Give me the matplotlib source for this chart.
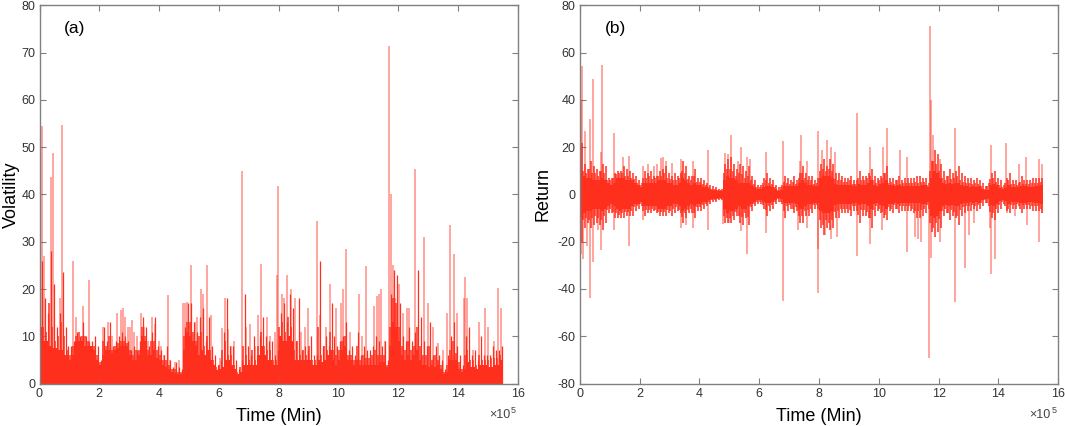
import numpy as np
import matplotlib
matplotlib.use("Agg")
import matplotlib.pyplot as plt

plt.rcParams['font.family'] = ['Liberation Sans', 'DejaVu Sans']
plt.rcParams['axes.unicode_minus'] = False

RED = '#ff2f1e'
GREY = '#808080'

# time grid, in units of 1e5 min
grid = np.arange(155) * 0.1

# (a) volatility: solid body, two jagged layers, and the thin pale spikes
vol_body = [12,9,9,8,7.5,7.5,7,7,6,6,
            5,6,9,9,9,8,8,8,7,5,
            4,6,7,7,6.5,7,7.5,8,8,8,
            6,5,5,6,10,9,6,6,7,5.5,
            5,4,3.5,3,2.5,2.2,2,2,7,11,
            10,9,8,6,7,6,7,5,4,2.8,
            3,3.5,5,5,4,3,2,2.5,4,4,
            4,4,4,6,8,6,5,5,4,4,
            10,9,9,10,9,5,5,5,5,5,
            5,4,4,5,4.5,5,6,7,5,4,
            5,7,8,5,5,4,5,4,4,4,
            4,4,4,4,4.5,4.5,3.5,8,13,12,
            9,6,5,6,5,6,7,5,4,4,
            3.5,4,3.5,4,3,2,2.5,5,5,5,
            3,2.5,3,4.5,3.5,3.5,3,4,4,4,
            3.5,3.5,4,4,5]
vol_mid = [20,12,11,17,12,9,10,13,10,7,
           6,8,10,11,10,10,9,8,8,6,
           4.5,9,8,10,7,8,8.5,9,9,8.5,
           7,6,7,7,12,10,7,9,9,7,
           6,5,5,4,3,3,2.5,2.5,10,13,
           13,11,9,10,11,8,10,7,5,3.5,
           4,7,9,6,6,4,2.5,3.5,8,6,
           5,7,5,8,11,8,7,7,5,5,
           12,13,11,14,12,7,9,6,7,6,
           8,5,5,12,6,8,7,11,7,6,
           7,9,10,6,6,5,8,5,6,5.5,
           5.5,6,7,6,6,6,4,12,18,17,
           12,8,7,9,7,8,12,8,6,6,
           8,5,6,5,4,2.5,4,7,9,6.5,
           4.5,3,6,7,5,5,4,6,5,5,
           5,5.5,5.5,5.5,6]
vol_tops = [26,18,15,28,21,12,15,23.5,12,8,
            8,9,11,10,13,10,9,9,10,8,
            5,12,9,13,8,9,10,11,10,9,
            7,8,7,9,14,12,8,11,14,8,
            7,6,8,5,3.5,4.5,3.5,3,12,17,
            17,13,11,14,16,9,14,8,6,4,
            5,11,18,8,8,5,3,5,19,8,
            6,10,6,10,14,10,9,9,6,7,
            15,17,13,19,16,9,18,7,8,7,
            10,6,6,26,8,10,8,17,10,8,
            9,10,13,7,8,6,11,6,8,7,
            7,8,10,9,8,9,5,19,24,23,
            17,10,9,12,9,11,24,14,9,8,
            13,6,8,6,5,3,6,10,13,8,
            6,4,10,12,6,7,5,10,6,6,
            6,8,7,7,8]
vol_spike_x = [0.07,0.16,0.37,0.44,0.75,0.68,1.13,1.23,1.46,1.65,2.13,2.28,2.42,2.58,
               2.72,2.78,2.87,2.95,3.02,3.1,3.15,3.25,3.38,3.5,3.63,3.78,3.88,4.0,4.07,
               4.15,4.3,4.38,4.52,4.68,4.8,4.87,4.95,5.08,5.2,5.28,5.4,5.47,5.6,5.75,
               6.05,6.1,6.22,6.3,6.4,6.5,6.78,6.9,7.05,7.2,7.32,7.4,7.6,7.7,7.87,7.95,
               7.98,8.1,8.17,8.28,8.4,8.55,8.75,8.9,9.0,9.27,9.4,9.6,9.72,9.92,10.1,
               10.15,10.27,10.4,10.7,10.8,10.93,11.2,11.3,11.35,11.42,11.55,11.7,11.75,
               11.82,11.9,12.03,12.15,12.3,12.37,12.55,12.87,13.0,13.17,13.33,13.5,13.65,
               13.75,13.87,13.97,14.2,14.25,14.3,14.5,14.7,14.92,15.0,15.2,15.35,15.45]
vol_spike_y = [54.5,27,43.8,48.7,54.7,18,26,14,16.5,21.8,12,13,10,15,
               15.5,16,14,12,12,13.5,11,10,15,12,9,14,12.5,9,8,
               6,18.8,5,4.5,5,17,17,17.3,25,13,14,20,19,25,14.5,
               5.5,11.8,18,11.5,8,9,45,12,12.5,8,14.5,25.3,14,10,11,23,
               41.7,19,18,23,20,18,11,12,16,34.4,14.5,12,21,16,17,
               20,28.4,11,19,10,24.8,16.5,18.5,19,20,9,71.5,40,
               25,18,21,15,16,16,45.3,31,17,12,8.5,7,15,
               33.5,27.5,15,18,22.5,18,7,13,16,12,9,20.3,16]

# (b) return: the same kind of layers, above and below zero
ret_body_up = [10,8,7,7,6,6,6,7,6,5,
               4,5,7,7,7,6,6,6,5,4,
               3,5,5,5,5,5,6,6,6,5,
               5,4,4,5,7,6,5,4,5,4,
               4,3,3,2.5,2,1.8,1.5,1.5,6,8,
               7,7,6,5,5,5,5,4,3,2.2,
               2.5,3,3.5,3.5,3,2.5,1.5,2,3.5,3.5,
               3.5,3.5,3.5,5,6,5,4,4,3.5,3.5,
               7,8,8,8,7,4.5,4,4,4,4,
               4,3.5,3.5,4.5,4,4,5,6,4,3.5,
               4.5,5,6,4,4,3.5,4,3.5,3.5,3.5,
               3.5,3.5,3.5,3.5,4,4,3,7,10,9,
               7,5,4.5,5,4.5,5,5,4,3.5,3.5,
               3,3.5,3,3.5,2.5,2,2,4,4.5,4,
               2.8,2.2,2.8,4,3,3,3,3.5,3.5,3.5,
               3,3,3.5,3.5,4]
ret_body_dn = [-10,-8,-7,-7,-6,-6,-6,-7,-6,-5,
               -4,-5,-6,-7,-6,-6,-6,-5,-4,-4,
               -3,-5,-5,-5,-5,-5,-6,-6,-6,-5,
               -5,-4,-4,-5,-7,-6,-5,-4,-5,-4,
               -4,-3,-3,-2.5,-2,-1.8,-1.5,-1.5,-6,-8,
               -7,-7,-6,-5,-6,-6,-5,-4,-3,-2.2,
               -2.5,-3,-3.5,-3.5,-3,-2.5,-1.5,-2,-3.5,-3.5,
               -3.5,-3.5,-4,-6,-6,-5,-4,-4,-3.5,-3.5,
               -7,-8,-8,-8,-7,-4.5,-4,-4,-4,-4,
               -4,-3.5,-3.5,-4.5,-4,-4,-5,-6,-4,-3.5,
               -4.5,-5,-6,-4,-4,-3.5,-4,-3.5,-3.5,-3.5,
               -3.5,-3.5,-3.5,-3.5,-4,-4,-3,-9,-10,-9,
               -7,-5,-4.5,-5,-4.5,-5,-5,-4,-3.5,-3.5,
               -3,-3.5,-3,-3.5,-2.5,-2,-2,-4.5,-5,-4,
               -2.8,-2.2,-2.8,-4,-3,-3,-3,-3.5,-3.5,-3.5,
               -3,-3,-3.5,-3.5,-4]
ret_mid_up = [16,10,9,11,9,9,8,10,9,6,
              6,7,8.5,9,9,8,8,7,6.5,5,
              4,7,7,8,6.5,7,8,8,9,7,
              6.5,6,6,7,10,9,6.5,6,8,5.5,
              5.5,4.5,4,3,2.5,2.5,2,2,9,11,
              11,10,8,9,8.5,7,8,6,4.5,3,
              3,5,6,5,4.5,3,2,3,5.5,5,
              4.5,5.5,4.5,7,9,7,6,6,4.5,5,
              10,11,10,11,10,6.5,6,6,5.5,5.5,
              6,4.5,4.5,7,6,6,7,8,6,5,
              6,7,9,5,5.5,4.5,6,4.5,5,5,
              5,5,5.5,5,5.5,5.5,4,10,14,13,
              10,7,6,8,6.5,7,8,6,5.5,5,
              5,4.5,5,4.5,3.5,2.5,3.5,6.5,7,5.5,
              4,3,5,6,4.5,4.5,4,5.5,4.5,4.5,
              4.5,5,5,5,5.5]
ret_mid_dn = [-15,-11,-10,-11,-10,-9,-10,-11,-9,-6.5,
              -6,-7.5,-8,-8.5,-8,-7.5,-7.5,-7,-5.5,-5,
              -4,-7,-6.5,-6.5,-6,-6.5,-7.5,-7.5,-7.5,-6.5,
              -7,-6,-5.5,-6.5,-9.5,-8,-6.5,-6,-8,-5.5,
              -5.5,-4.5,-4,-3,-2.5,-2.5,-2,-2,-9,-10,
              -10,-9,-7.5,-9,-9.5,-8,-9.5,-5.5,-4,-3,
              -3,-4.5,-6.5,-5,-4.5,-3,-2,-3,-7,-5,
              -4.5,-6,-5.5,-9,-9,-7,-6.5,-6,-4.5,-4.5,
              -11,-13,-11,-12,-11,-7.5,-7,-6,-6,-6,
              -6.5,-5,-5,-8.5,-6.5,-6.5,-7.5,-10,-6.5,-5,
              -6,-7.5,-8.5,-5.5,-6,-4.5,-6,-5,-5,-5,
              -5,-6,-7,-7,-6.5,-6,-4.5,-12,-14,-12,
              -10.5,-7,-6,-8,-6.5,-7.5,-9,-6.5,-5.5,-5,
              -5,-4.5,-5,-4.5,-3.5,-2.5,-3.5,-7.5,-8,-6,
              -4.5,-3,-5,-6,-4.5,-4.5,-4,-6,-4.5,-4.5,
              -4.5,-5,-5,-5,-6]
ret_tops_up = [22,13,11,14,12,11,10,13,12,7,
               7,9,10,10,12,11,10,9,8,6,
               5,10,9,10,8,8,10,11,12,9,
               8,9,8,9,14,12,8,8,11,7,
               7,6,5,4,3.5,3.2,2.5,2.5,13,15,
               16,13,11,13,12,10,12,8,6,4,
               4,7,9,7,6,4,3,4,8,7,
               6,8,6,9,12,9,8,8,6,7,
               13,15,12,15,13,9,9,8,7,7,
               8,6,6,10,8,8,9,11,8,7,
               8,9,12,7,7,6,8,6,7,7,
               7,7,8,8,7,7,5,14,19,17,
               13,10,8,11,9,10,12,9,8,7,
               7,6,7,6,5,3.5,5,9,10,7,
               6,4,7,9,6,6,5,8,6,6,
               6,7,7,7,7]
ret_tops_dn = [-20,-14,-12,-14,-13,-12,-13,-15,-12,-8,
               -8,-10,-10,-10,-10,-9,-9,-9,-7,-6,
               -5,-9,-8,-8,-7,-8,-9,-9,-9,-8,
               -9,-8,-7,-8,-12,-10,-8,-8,-10,-7,
               -7,-6,-5,-4,-3,-3,-2.5,-2.5,-12,-12,
               -12,-11,-9,-12,-13,-10,-13,-7,-5,-4,
               -4,-6,-9,-7,-6,-4,-3,-4,-10,-7,
               -6,-8,-7,-12,-12,-9,-9,-8,-6,-6,
               -14,-17,-14,-15,-14,-10,-10,-8,-8,-8,
               -9,-7,-7,-12,-9,-9,-10,-14,-9,-7,
               -8,-10,-11,-7,-8,-6,-8,-7,-7,-7,
               -7,-8,-10,-10,-9,-8,-6,-16,-18,-16,
               -14,-9,-8,-11,-9,-10,-13,-9,-8,-7,
               -7,-6,-7,-6,-5,-3.5,-5,-10,-11,-8,
               -6,-4,-7,-8,-6,-6,-5,-8,-6,-6,
               -6,-7,-7,-7,-8]
ret_up_x = [0.05,0.07,0.17,0.35,0.43,0.75,0.7,1.13,1.45,1.65,2.13,2.28,2.5,2.58,2.72,2.78,
            2.9,3.1,3.38,3.78,4.3,4.85,4.95,5.05,5.28,5.4,5.6,5.7,6.22,6.78,7.35,7.4,7.6,
            7.95,8.1,8.28,8.4,8.55,9.27,9.72,10.15,10.27,10.7,10.93,11.7,11.75,11.82,
            12.03,12.55,13.75,14.25,14.7,14.92,15.35,15.45]
ret_up_y = [40,54.5,27,32,48.7,54.7,18,26,16,16.5,12,13,12,13,15.5,16,
            14,13.5,15,14,18.8,17.5,17.3,25,14,20,15.8,15,18,22.5,14,25.3,14,
            27,19,23,20,18,34.4,20,20,28,19,16,71.5,40,25,
            15,28,21,22,13,16,15,13]
ret_dn_x = [0.03,0.1,0.25,0.35,0.43,0.6,0.72,1.13,1.65,2.13,3.38,3.55,3.78,4.3,4.78,5.0,5.4,
            5.6,6.22,6.78,7.3,7.6,7.95,7.98,8.2,8.4,8.6,9.27,9.72,10.1,10.93,11.2,11.3,
            11.4,11.68,11.75,12.05,12.55,12.87,13.0,13.17,13.7,13.75,13.87,14.3,14.55,
            14.95,15.35,15.45]
ret_dn_y = [-25,-27.5,-22,-44,-28.5,-15,-23.5,-15,-21.8,-11,-14,-13,-14,-15,-12.5,-12,-15.5,
            -25,-16.5,-45,-15,-14,-23,-41.7,-17,-19,-18,-26,-21,-15,-24.5,-18,-19,
            -20,-69,-27,-20,-45.5,-31,-17,-12,-14,-33.5,-27.5,-8,-9,
            -13,-20.3,-8]

fig = plt.figure(figsize=(10.65, 4.26), dpi=100)
ax1 = fig.add_axes([39.5/1065, 1-383.5/426, 478.2/1065, 378/426])
ax2 = fig.add_axes([579.7/1065, 1-383.5/426, 478.6/1065, 378/426])


def style(ax, ylim, yticks, ylabel, tag, label_x):
    ax.set_xlim(0, 16)
    ax.set_ylim(*ylim)
    ax.set_xticks(range(0, 17, 2))
    ax.set_yticks(yticks)
    ax.tick_params(direction='in', top=True, right=True, length=4, width=0.8,
                   color=GREY, labelsize=9, labelcolor='#333333', pad=3)
    for s in ax.spines.values():
        s.set_color(GREY)
        s.set_linewidth(1.0)
    ax.set_xlabel('Time (Min)', fontsize=13, labelpad=6)
    ax.set_ylabel(ylabel, fontsize=13)
    ax.yaxis.set_label_coords(label_x, 0.5)
    ax.text(0.052, 0.94, tag, transform=ax.transAxes, fontsize=12.5, va='center')
    ax.text(0.984, -0.083, '\u00d710', transform=ax.transAxes, fontsize=9,
            ha='right', va='center', color='#444444')
    ax.text(0.986, -0.072, '5', transform=ax.transAxes, fontsize=6.5, va='center', color='#444444')


# panel a
ax1.bar(grid, vol_body, width=0.1, align='edge', color=RED, linewidth=0)
ax1.vlines(grid + 0.02, 0, vol_mid, color=RED, linewidth=1.1)
ax1.vlines(grid + 0.07, 0, vol_tops, color=RED, linewidth=0.9)
ax1.vlines(vol_spike_x, 0, vol_spike_y, color=RED, linewidth=1.2, alpha=0.5)
style(ax1, (0, 80), range(0, 81, 10), 'Volatility', '(a)', -0.04)

# panel b
ax2.bar(grid, np.array(ret_body_up) - np.array(ret_body_dn), bottom=ret_body_dn,
        width=0.1, align='edge', color=RED, linewidth=0)
ax2.vlines(grid + 0.02, ret_mid_dn, ret_mid_up, color=RED, linewidth=1.1)
ax2.vlines(grid + 0.07, ret_tops_dn, ret_tops_up, color=RED, linewidth=1.1)
ax2.vlines(ret_up_x, 0, ret_up_y, color=RED, linewidth=1.1, alpha=0.55)
ax2.vlines(ret_dn_x, ret_dn_y, 0, color=RED, linewidth=1.1, alpha=0.55)
style(ax2, (-80, 80), range(-80, 81, 20), 'Return', '(b)', -0.058)

fig.savefig('out.png', dpi=100)
